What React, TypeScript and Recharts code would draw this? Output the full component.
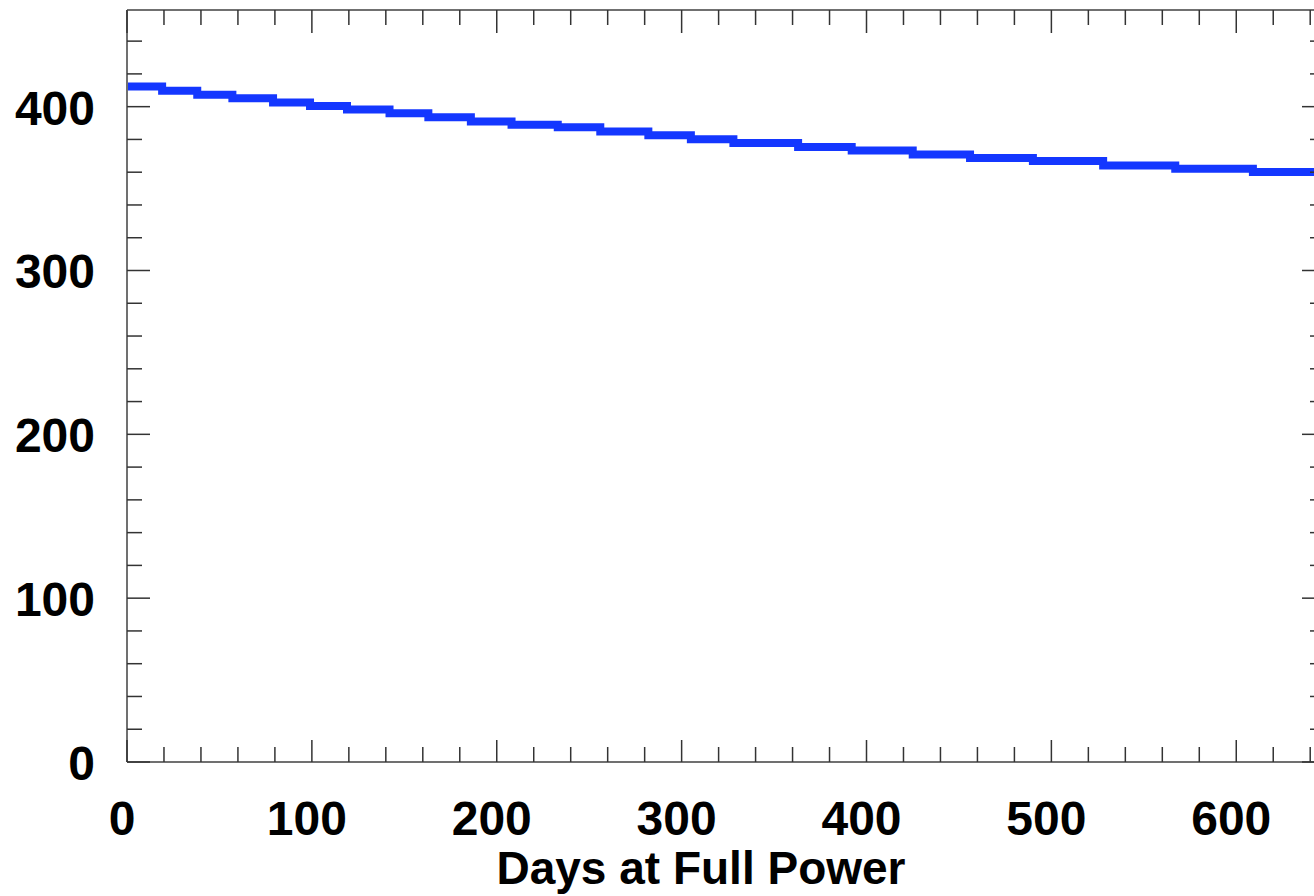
import React from 'react';
import { LineChart, Line, XAxis, YAxis, Label } from 'recharts';

// Step levels: day at which each level starts, and its value
const stepDays = [0, 19, 38, 57, 79, 99, 119, 142, 163, 186, 208, 233, 256, 282, 305, 328, 363, 392, 425, 456, 490, 528, 567, 609, 648];
const stepValues = [412.3, 409.7, 407.2, 405.1, 402.6, 400.4, 398.3, 396.0, 393.5, 391.0, 389.0, 387.5, 384.8, 382.5, 380.1, 377.8, 375.4, 373.3, 370.8, 368.7, 366.8, 364.1, 362.1, 360.1, 360.1];

const xTicks = [0, 20, 40, 60, 80, 100, 120, 140, 160, 180, 200, 220, 240, 260, 280, 300, 320, 340, 360, 380, 400, 420, 440, 460, 480, 500, 520, 540, 560, 580, 600, 620, 640];
const xLabels = [0, 100, 200, 300, 400, 500, 600];
const yTicks = [0, 20, 40, 60, 80, 100, 120, 140, 160, 180, 200, 220, 240, 260, 280, 300, 320, 340, 360, 380, 400, 420, 440];
const yLabels = [0, 100, 200, 300, 400];

const data = stepDays.map((d, i) => ({ day: d, value: stepValues[i] }));

const FONT = '"Liberation Sans", Arial, Helvetica, sans-serif';
const TICK = '#333';
const AXIS = '#707070';
const BLUE = '#1437ff';

const isMajor = (v: number) => v % 100 === 0;

const BottomTick = (props: any) => {
  const { x, y, payload } = props;
  const v = payload.value;
  const len = isMajor(v) ? 22 : 15;
  return (
    <g>
      <line x1={x} y1={y} x2={x} y2={y - len} stroke={TICK} strokeWidth={1.5} />
      {xLabels.includes(v) ? (
        <text x={x - 5} y={y + 73} textAnchor="middle" fontFamily={FONT} fontWeight="bold" fontSize={48} fill="#000">
          {v}
        </text>
      ) : null}
    </g>
  );
};

const TopTick = (props: any) => {
  const { x, y, payload } = props;
  const len = isMajor(payload.value) ? 23 : 15;
  return <line x1={x} y1={y} x2={x} y2={y + len} stroke={TICK} strokeWidth={1.5} />;
};

const LeftTick = (props: any) => {
  const { x, y, payload } = props;
  const v = payload.value;
  const len = isMajor(v) ? 23 : 15;
  return (
    <g>
      <line x1={x} y1={y} x2={x + len} y2={y} stroke={TICK} strokeWidth={1.5} />
      {yLabels.includes(v) ? (
        <text x={x - 32} y={y + 18} textAnchor="end" fontFamily={FONT} fontWeight="bold" fontSize={48} fill="#000">
          {v}
        </text>
      ) : null}
    </g>
  );
};

const RightTick = (props: any) => {
  const { x, y, payload } = props;
  const len = isMajor(payload.value) ? 23 : 15;
  return <line x1={x} y1={y} x2={x - len} y2={y} stroke={TICK} strokeWidth={1.5} />;
};

const Title = (props: any) => {
  const vb = props.viewBox || {};
  return (
    <text x={vb.x + vb.width / 2 - 25} y={vb.y + 122} textAnchor="middle" fontFamily={FONT} fontWeight="bold" fontSize={46} fill="#000">
      Days at Full Power
    </text>
  );
};

export default function App() {
  return (
    <div style={{ position: 'fixed', left: 0, top: 0, width: 1314, height: 896, overflow: 'hidden', background: '#fff' }}>
      <LineChart width={1326} height={896} data={data} margin={{ top: 9, right: 0, bottom: 0, left: 0 }}>
        <XAxis
          xAxisId="bottom"
          dataKey="day"
          type="number"
          domain={[0, 648]}
          allowDataOverflow
          ticks={xTicks}
          interval={0}
          tickSize={0}
          tickMargin={0}
          tickLine={false}
          axisLine={{ stroke: AXIS, strokeWidth: 2 }}
          tick={<BottomTick />}
          height={134}
          orientation="bottom"
        >
          <Label content={<Title />} />
        </XAxis>
        <XAxis
          xAxisId="top"
          dataKey="day"
          type="number"
          domain={[0, 648]}
          allowDataOverflow
          ticks={xTicks}
          interval={0}
          tickSize={0}
          tickMargin={0}
          tickLine={false}
          axisLine={{ stroke: AXIS, strokeWidth: 2 }}
          tick={<TopTick />}
          height={1}
          orientation="top"
        />
        <YAxis
          yAxisId="left"
          type="number"
          domain={[0, 459]}
          allowDataOverflow
          ticks={yTicks}
          interval={0}
          tickSize={0}
          tickMargin={0}
          tickLine={false}
          axisLine={{ stroke: AXIS, strokeWidth: 2 }}
          tick={<LeftTick />}
          width={127}
          orientation="left"
        />
        <YAxis
          yAxisId="right"
          type="number"
          domain={[0, 459]}
          allowDataOverflow
          ticks={yTicks}
          interval={0}
          tickSize={0}
          tickMargin={0}
          tickLine={false}
          axisLine={false}
          tick={<RightTick />}
          width={1}
          orientation="right"
        />
        <Line
          xAxisId="bottom"
          yAxisId="left"
          type="stepAfter"
          dataKey="value"
          stroke={BLUE}
          strokeWidth={8}
          dot={false}
          isAnimationActive={false}
        />
      </LineChart>
    </div>
  );
}
